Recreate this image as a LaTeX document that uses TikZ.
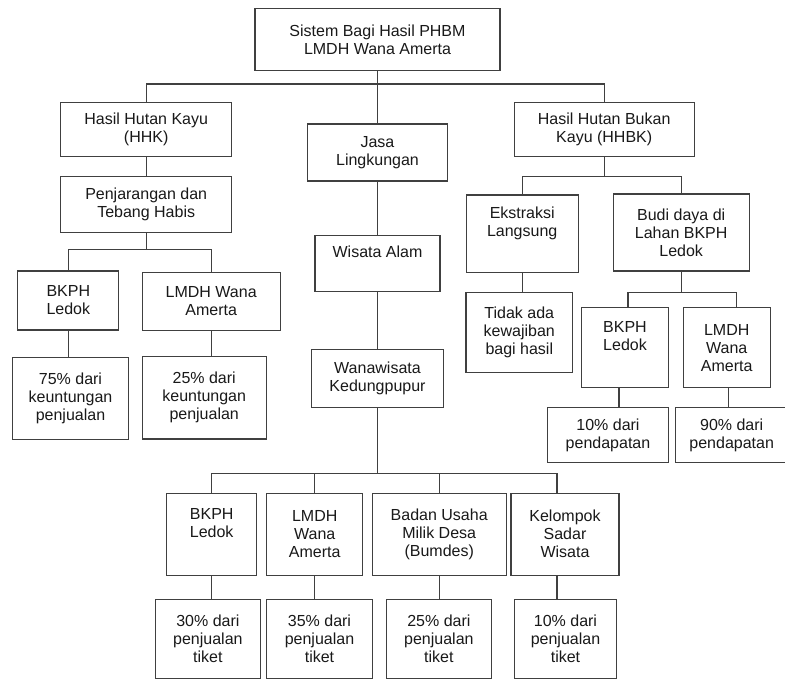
\documentclass[tikz,border=0pt]{standalone}
\usepackage{fontspec}
\setmainfont{Liberation Sans}
\begin{document}
\begin{tikzpicture}[x=1pt,y=-1pt,
  bx/.style={draw=black!75, line width=1.1pt, fill=white, text=black!90, align=center,
             inner sep=0pt, font=\fontsize{16}{18}\selectfont},
  ln/.style={draw=black!75, line width=1.1pt}]
\clip (0,0) rectangle (785,679);
\fill[white] (0,0) rectangle (785,679);

% central column
\node[bx, minimum width=245pt, minimum height=62pt] (top) at (377.5,39.5) {Sistem Bagi Hasil PHBM\\LMDH Wana Amerta};
\node[bx, minimum width=140pt, minimum height=57pt] (jasa) at (377.5,152.5) {Jasa\\Lingkungan};
\node[bx, minimum width=125pt, minimum height=56pt] (wis) at (377.5,263.8) {Wisata Alam\\\strut};
\node[bx, minimum width=132pt, minimum height=58pt] (wana) at (377.5,378.3) {Wanawisata\\Kedungpupur};

% left branch
\node[bx, minimum width=171pt, minimum height=54pt] (hhk) at (146.2,129.7) {Hasil Hutan Kayu\\(HHK)};
\node[bx, minimum width=171pt, minimum height=56pt] (pen) at (146.2,204.7) {Penjarangan dan\\Tebang Habis};
\node[bx, minimum width=101pt, minimum height=59pt] (bkl) at (68.3,300.5) {BKPH\\Ledok};
\node[bx, minimum width=138pt, minimum height=58pt] (lml) at (211.2,301.2) {LMDH Wana\\Amerta};
\node[bx, minimum width=115.6pt, minimum height=81.7pt] (p75) at (70.5,398.2) {75\% dari\\keuntungan\\penjualan};
\node[bx, minimum width=123.7pt, minimum height=82.3pt] (p25) at (204.2,397.8) {25\% dari\\keuntungan\\penjualan};

% right branch
\node[bx, minimum width=179.7pt, minimum height=54pt] (hhbk) at (604.2,129.7) {Hasil Hutan Bukan\\Kayu (HHBK)};
\node[bx, minimum width=112.3pt, minimum height=77.3pt] (eks) at (522.2,233.7) {Ekstraksi\\Langsung\\\strut};
\node[bx, minimum width=135.7pt, minimum height=77pt] (budi) at (681.2,232.5) {Budi daya di\\Lahan BKPH\\Ledok};
\node[bx, minimum width=106.7pt, minimum height=80pt] (tidak) at (519.3,332.3) {Tidak ada\\kewajiban\\bagi hasil};
\node[bx, minimum width=86.6pt, minimum height=80pt] (bkr) at (625,347.7) {BKPH\\Ledok\\\strut};
\node[bx, minimum width=86.7pt, minimum height=80pt] (lmr) at (726.7,347.7) {LMDH\\Wana\\Amerta};
\node[bx, minimum width=120.6pt, minimum height=55pt] (p10) at (608,435.2) {10\% dari\\pendapatan};
\node[bx, minimum width=112pt, minimum height=55pt] (p90) at (731.7,435.2) {90\% dari\\pendapatan};

% bottom row
\node[bx, minimum width=90pt, minimum height=81.7pt] (bk2) at (211.7,534.2) {BKPH\\Ledok\\\strut};
\node[bx, minimum width=96pt, minimum height=81.7pt] (lm2) at (314.7,534.2) {LMDH\\Wana\\Amerta};
\node[bx, minimum width=133.7pt, minimum height=81.7pt] (bum) at (439.2,534.2) {Badan Usaha\\Milik Desa\\(Bumdes)};
\node[bx, minimum width=108pt, minimum height=81.7pt] (kel) at (565,534.2) {Kelompok\\Sadar\\Wisata};
\node[bx, minimum width=104.3pt, minimum height=79pt] (p30) at (207.9,638.8) {30\% dari\\penjualan\\tiket};
\node[bx, minimum width=105.6pt, minimum height=79pt] (p35) at (319.5,638.8) {35\% dari\\penjualan\\tiket};
\node[bx, minimum width=104.3pt, minimum height=79pt] (p25b) at (438.9,638.8) {25\% dari\\penjualan\\tiket};
\node[bx, minimum width=102.4pt, minimum height=79pt] (p10b) at (565.5,638.8) {10\% dari\\penjualan\\tiket};

% junction points
\coordinate (j1) at (377.5,84);
\coordinate (j2) at (146.2,249.3);
\coordinate (j3) at (604.2,176.7);
\coordinate (j5) at (681.2,292.3);
\coordinate (j4) at (377.5,473.3);

% connectors
\draw[ln] (top.south) -- (jasa.north);
\draw[ln] (hhk.north) |- (j1) -| (hhbk.north);
\draw[ln] (hhk) -- (pen);
\draw[ln] (jasa) -- (wis);
\draw[ln] (wis) -- (wana);

\draw[ln] (pen.south) -- (j2);
\draw[ln] (bkl.north) |- (j2) -| (lml.north);
\draw[ln] (bkl.south) -- (bkl.south |- p75.north);
\draw[ln] (lml.south) -- (lml.south |- p25.north);

\draw[ln] (hhbk.south) -- (j3);
\draw[ln] (eks.north) |- (j3) -| (budi.north);
\draw[ln] (eks.south) -- (eks.south |- tidak.north);
\draw[ln] (budi.south) -- (j5);
\draw[ln] ([xshift=3pt]bkr.north) |- (j5) -| ([xshift=10pt]lmr.north);
\draw[ln] ([xshift=-6pt]bkr.south) -- ([xshift=-6pt]bkr.south |- p10.north);
\draw[ln] ([xshift=2pt]lmr.south) -- ([xshift=2pt]lmr.south |- p90.north);

\draw[ln] (wana.south) -- (j4);
\draw[ln] (bk2.north) |- (j4) -| ([xshift=-8pt]kel.north);
\draw[ln] (lm2.north) -- (lm2.north |- j4);
\draw[ln] (bum.north) -- (bum.north |- j4);
\draw[ln] (bk2.south) -- (bk2.south |- p30.north);
\draw[ln] (lm2.south) -- (lm2.south |- p35.north);
\draw[ln] (bum.south) -- (bum.south |- p25b.north);
\draw[ln] ([xshift=-8pt]kel.south) -- ([xshift=-8pt]kel.south |- p10b.north);
\end{tikzpicture}
\end{document}
